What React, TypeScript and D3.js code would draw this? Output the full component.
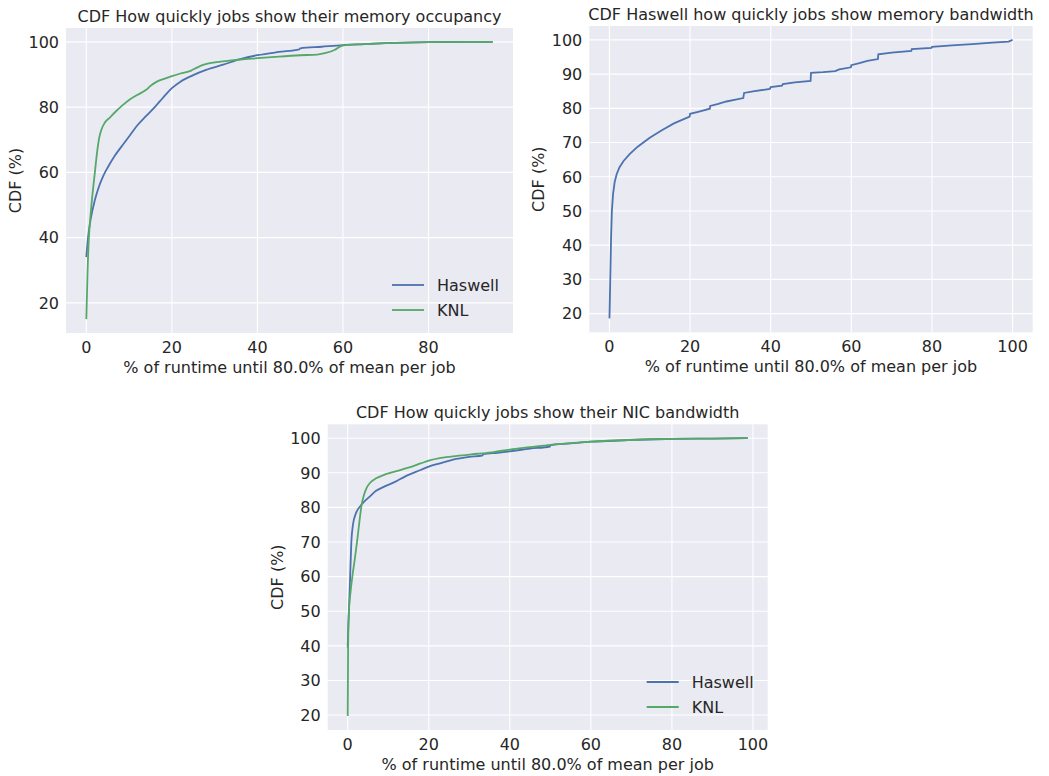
import React from "react";
import * as d3 from "d3";

type Pt = [number, number];

// Panel 1: memory occupancy
const memOccHaswell: Pt[] = [
  [0, 34], [0.4, 40], [1, 45.5], [2, 51.5], [3, 55.8], [4, 59], [5, 61.5], [6.5, 64.8], [8, 67.5],
  [10, 71], [12, 74.5], [14, 77.3], [16, 80], [18, 83], [20, 85.8], [22, 87.8], [25, 89.8],
  [28, 91.4], [32, 93], [36, 94.7], [40, 95.9], [45, 96.9], [49.8, 97.7], [50, 98], [55, 98.5],
  [60, 99], [65, 99.3], [70, 99.6], [80, 99.9], [95, 100],
];
const memOccKNL: Pt[] = [
  [0, 15], [0.3, 30], [0.6, 40], [1, 47], [1.5, 54], [2, 60], [2.5, 66], [3, 70.5], [3.5, 73],
  [4.3, 75.2], [5.5, 76.8], [7, 78.8], [8.5, 80.6], [10, 82.2], [12, 83.8], [14, 85.3], [15, 86.5],
  [16.5, 87.8], [18, 88.6], [20, 89.5], [22, 90.3], [24.5, 91.2], [26, 92.2], [27.5, 93], [30, 93.7],
  [33, 94.2], [36, 94.6], [40, 95], [45, 95.5], [50, 95.9], [54, 96.1], [56, 96.6], [58, 97.5],
  [59.5, 98.7], [61, 99.1], [65, 99.3], [70, 99.6], [80, 99.9], [95, 100],
];

// Panel 2: Haswell memory bandwidth
const memBwHaswell: Pt[] = [
  [0, 18.6], [0.2, 30], [0.4, 42], [0.6, 50], [0.9, 55], [1.3, 58.5], [1.8, 60.8], [2.5, 62.8],
  [3.5, 64.6], [5, 66.6], [7, 68.8], [10, 71.4], [13, 73.6], [16, 75.6], [19.9, 77.6], [20, 78.4],
  [22, 79], [24.9, 79.9], [25, 80.7], [27, 81.3], [29, 82], [31, 82.5], [33.2, 83], [33.4, 84.5],
  [36, 85], [39.8, 85.7], [40, 86.2], [42.8, 86.6], [43, 87.1], [46, 87.6], [49.9, 88], [50, 90.4],
  [53, 90.6], [56, 90.9], [57, 91.4], [59.9, 92], [60, 92.6], [62, 93.2], [64, 93.9], [66.6, 94.4],
  [66.7, 95.8], [70, 96.3], [74.9, 96.8], [75, 97.3], [79.9, 97.7], [80, 98], [85, 98.4],
  [90, 98.8], [95, 99.2], [99, 99.5], [100, 100],
];

// Panel 3: NIC bandwidth
const nicHaswell: Pt[] = [
  [0, 39.5], [0.15, 46], [0.3, 50], [0.6, 60], [0.9, 70], [1.3, 75], [2, 78.2], [3, 80.2], [4, 81.6],
  [5.5, 83.2], [7, 84.8], [9, 86], [11, 87], [13, 88.2], [15, 89.4], [18, 90.8], [20, 91.8],
  [23, 92.8], [26, 93.8], [30, 94.6], [33.2, 95], [33.5, 95.4], [37, 95.8], [40, 96.2], [45, 97],
  [49.9, 97.6], [50, 98], [55, 98.5], [60, 99], [67, 99.3], [70, 99.5], [80, 99.8], [90, 99.9],
  [98.7, 100],
];
const nicKNL: Pt[] = [
  [0, 19.7], [0.1, 40], [0.3, 50], [0.7, 55.5], [1.2, 60.5], [1.8, 65.5], [2.4, 71], [2.9, 76],
  [3.4, 80.5], [4, 83.5], [4.7, 85.7], [5.6, 87.2], [7, 88.4], [8.5, 89.2], [12, 90.5], [15, 91.5],
  [18, 92.7], [20, 93.5], [23, 94.3], [27, 94.9], [32, 95.5], [36, 96], [40, 96.7], [45, 97.4],
  [50, 98.1], [55, 98.6], [60, 99], [67, 99.4], [75, 99.7], [80, 99.8], [90, 99.9], [98.7, 100],
];

const xTicks = [0, 20, 40, 60, 80, 100];
const yTicksA = [20, 40, 60, 80, 100];
const yTicksB = [20, 30, 40, 50, 60, 70, 80, 90, 100];

const BLUE = "#4C72B0";
const GREEN = "#55A868";
const TEXT = "#262626";
const FONT = "DejaVu Sans";

interface Series { name: string; data: Pt[]; color: string; }
interface PanelProps {
  left: number; top: number; right: number; bottom: number;
  title: string; series: Series[]; yTicks: number[]; smooth: boolean; legend: boolean;
}

function pad(ext: [number, number]): [number, number] {
  const m = (ext[1] - ext[0]) * 0.05;
  return [ext[0] - m, ext[1] + m];
}

function Panel(p: PanelProps) {
  const all = p.series.flatMap((s) => s.data);
  const xDom = pad(d3.extent(all, (d) => d[0]) as [number, number]);
  const yDom = pad(d3.extent(all, (d) => d[1]) as [number, number]);
  const x = d3.scaleLinear().domain(xDom).range([p.left, p.right]);
  const y = d3.scaleLinear().domain(yDom).range([p.bottom, p.top]);
  const line = d3.line<Pt>().x((d) => x(d[0])).y((d) => y(d[1]))
    .curve(p.smooth ? d3.curveMonotoneX : d3.curveLinear);
  const xt = xTicks.filter((t) => t >= xDom[0] && t <= xDom[1]);
  const cx = (p.left + p.right) / 2;
  const cy = (p.top + p.bottom) / 2;
  const legX = p.right - 121;
  const legY = p.bottom - 48;
  return (
    <g fontFamily={FONT} fill={TEXT}>
      <rect x={p.left} y={p.top} width={p.right - p.left} height={p.bottom - p.top} fill="#EAEAF2" />
      {xt.map((t) => (
        <line key={"gx" + t} x1={x(t)} x2={x(t)} y1={p.top} y2={p.bottom} stroke="#fff" strokeWidth={1.1} />
      ))}
      {p.yTicks.map((t) => (
        <line key={"gy" + t} x1={p.left} x2={p.right} y1={y(t)} y2={y(t)} stroke="#fff" strokeWidth={1.1} />
      ))}
      {p.series.map((s) => (
        <path key={s.name} d={line(s.data) || ""} fill="none" stroke={s.color} strokeWidth={1.8} />
      ))}
      {xt.map((t) => (
        <text key={"tx" + t} x={x(t)} y={p.bottom + 20} textAnchor="middle" fontSize={16}>{t}</text>
      ))}
      {p.yTicks.map((t) => (
        <text key={"ty" + t} x={p.left - 7} y={y(t)} dy="0.36em" textAnchor="end" fontSize={16}>{t}</text>
      ))}
      <text x={cx} y={p.bottom + 40} textAnchor="middle" fontSize={16}>% of runtime until 80.0% of mean per job</text>
      <text transform={`translate(${p.left - 45},${cy}) rotate(-90)`} textAnchor="middle" fontSize={16}>CDF (%)</text>
      <text x={cx} y={p.top - 6} textAnchor="middle" fontSize={16}>{p.title}</text>
      {p.legend && p.series.map((s, i) => (
        <g key={"lg" + s.name}>
          <line x1={legX} x2={legX + 32} y1={legY + i * 25} y2={legY + i * 25} stroke={s.color} strokeWidth={1.8} />
          <text x={legX + 45} y={legY + i * 25} dy="0.36em" fontSize={16}>{s.name}</text>
        </g>
      ))}
    </g>
  );
}

export default function App() {
  return (
    <svg width={1049} height={776} style={{ position: "absolute", left: 0, top: 0, background: "#fff" }}>
      <Panel left={66} top={28} right={513} bottom={333}
        title="CDF How quickly jobs show their memory occupancy"
        series={[{ name: "Haswell", data: memOccHaswell, color: BLUE }, { name: "KNL", data: memOccKNL, color: GREEN }]}
        yTicks={yTicksA} smooth={true} legend={true} />
      <Panel left={589.3} top={26} right={1032.7} bottom={332.3}
        title="CDF Haswell how quickly jobs show memory bandwidth"
        series={[{ name: "Haswell", data: memBwHaswell, color: BLUE }]}
        yTicks={yTicksB} smooth={false} legend={false} />
      <Panel left={327.7} top={424.3} right={767.7} bottom={730}
        title="CDF How quickly jobs show their NIC bandwidth"
        series={[{ name: "Haswell", data: nicHaswell, color: BLUE }, { name: "KNL", data: nicKNL, color: GREEN }]}
        yTicks={yTicksB} smooth={true} legend={true} />
    </svg>
  );
}
